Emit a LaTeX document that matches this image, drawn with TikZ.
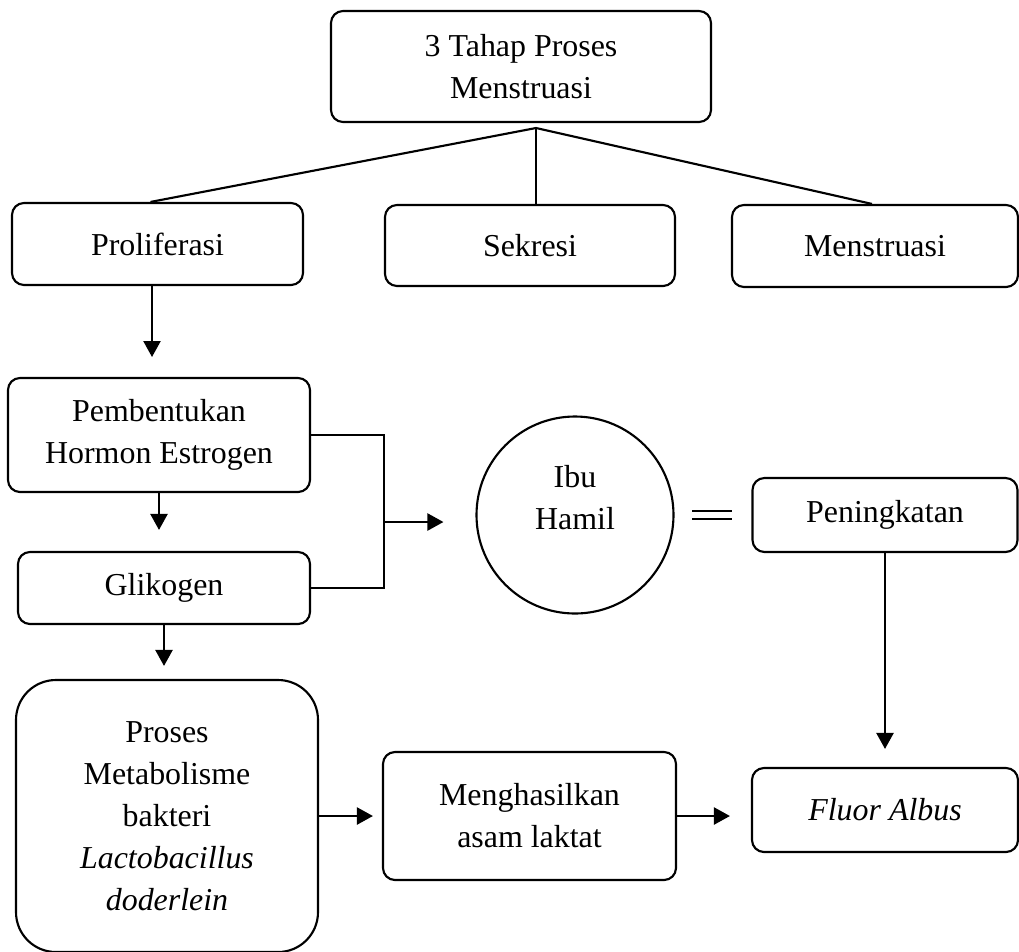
\documentclass[tikz,border=0pt]{standalone}
\usepackage{fontspec}
\setmainfont{Liberation Serif}
\usepackage{tikz}
\usetikzlibrary{positioning, shapes.geometric, arrows.meta, calc}
\usepackage{xcolor}
\definecolor{mnline}{HTML}{000000}
\definecolor{mnwhite}{HTML}{FFFFFF}

\begin{document}
\begin{tikzpicture}[x=0.376pt, y=-0.376pt,
    font=\fontsize{12}{15.8}\selectfont,
    box/.style={draw=mnline, line width=0.8pt, rounded corners=4.5pt, align=center, inner sep=0pt},
    arr/.style={draw=mnline, line width=0.8pt, -{Triangle[width=6.4pt, length=6pt]}},
    link/.style={draw=mnline, line width=0.8pt}]
    \useasboundingbox[fill=mnwhite] (0,0) rectangle (1019,951);

    \node[box, minimum width=380*0.376pt, minimum height=111*0.376pt] (top) at (521,66.5)
          {3 Tahap Proses\\Menstruasi};
    \node[box, minimum width=291*0.376pt, minimum height=82*0.376pt] (prol) at (157.5,244)
          {Proliferasi};
    \node[box, minimum width=290*0.376pt, minimum height=81*0.376pt] (sekr) at (530,245.5)
          {Sekresi};
    \node[box, minimum width=286*0.376pt, minimum height=82*0.376pt] (mens) at (875,246)
          {Menstruasi};
    \node[box, minimum width=302*0.376pt, minimum height=114*0.376pt] (pemb) at (159,435)
          {Pembentukan\\Hormon Estrogen};
    \node[box, minimum width=292*0.376pt, minimum height=72*0.376pt] (glik) at (164,588)
          {Glikogen};
    \node[draw=mnline, line width=0.8pt, circle, minimum size=197*0.376pt] (ibu) at (575,515) {};
    \node[align=center] (ibutext) at (575,498) {Ibu\\Hamil};
    \node[box, minimum width=265*0.376pt, minimum height=74*0.376pt] (pen) at (885,515)
          {Peningkatan};
    \node[box, rounded corners=15pt, minimum width=302*0.376pt, minimum height=272*0.376pt] (proses) at (167,816)
          {Proses\\Metabolisme\\bakteri\\\textit{Lactobacillus}\\\textit{doderlein}};
    \node[box, minimum width=293*0.376pt, minimum height=128*0.376pt] (meng) at (529.5,816)
          {Menghasilkan\\asam laktat};
    \node[box, minimum width=266*0.376pt, minimum height=84*0.376pt] (fluor) at (885,810)
          {\textit{Fluor Albus}};

    \coordinate (apex) at (536,128);
    \draw[link] (apex) -- ([xshift=-7*0.376pt]prol.north);
    \draw[link] (apex) -- (apex |- sekr.north);
    \draw[link] (apex) -- ([xshift=-3*0.376pt]mens.north);

    \coordinate (p1) at (152,357);
    \draw[arr] (p1 |- prol.south) -- (p1);
    \draw[arr, shorten >=21*0.376pt] (pemb.south) -- (pemb.south |- glik.north);
    \draw[arr, shorten >=13*0.376pt] (glik.south) -- (glik.south |- proses.north);

    \coordinate (br) at (384,522);
    \draw[link] (pemb.east) -| (br) |- (glik.east);
    \draw[arr, shorten >=32*0.376pt] (br) -- (br -| ibu.west);

    \coordinate (eqa) at (692,515);
    \coordinate (eqb) at (732,515);
    \draw[link, line width=0.6pt, double, double distance=2.6pt] (eqa) -- (eqb);

    \draw[arr, shorten >=18*0.376pt] (pen.south) -- (pen.south |- fluor.north);
    \draw[arr, shorten >=9*0.376pt] (proses.east) -- (proses.east -| meng.west);
    \draw[arr, shorten >=21*0.376pt] (meng.east) -- (meng.east -| fluor.west);
\end{tikzpicture}
\end{document}
